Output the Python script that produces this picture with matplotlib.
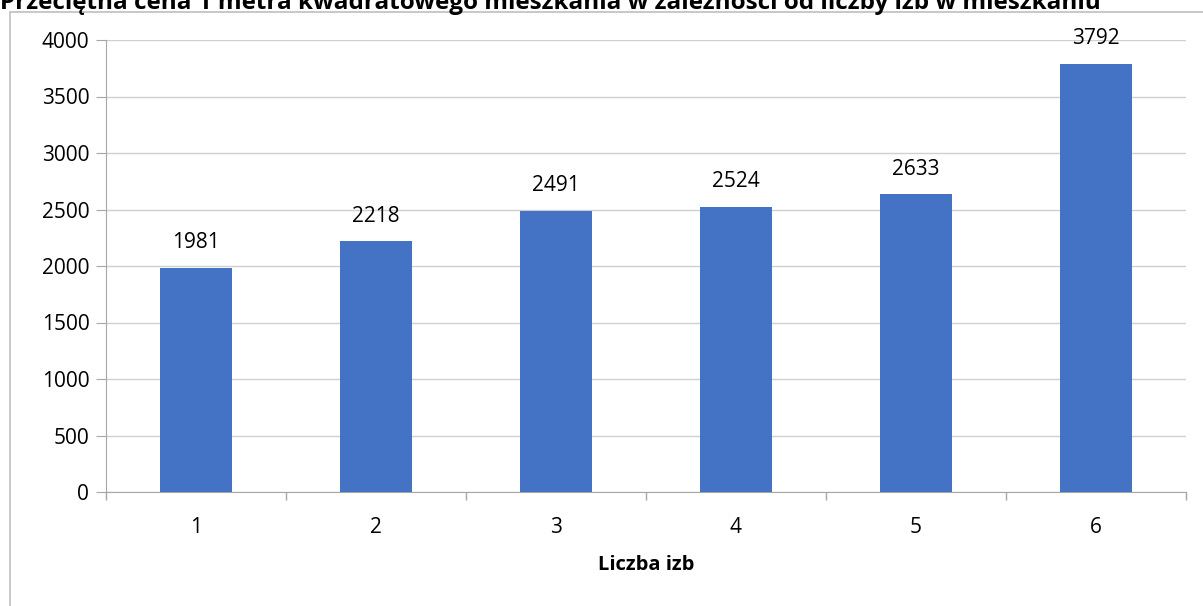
import matplotlib
matplotlib.use("Agg")
import matplotlib.pyplot as plt
from matplotlib.patches import Rectangle

# data
rooms = ["1", "2", "3", "4", "5", "6"]
prices = [1981, 2218, 2491, 2524, 2633, 3792]

title = "Przeciętna cena 1 metra kwadratowego mieszkania w zależności od liczby izb w mieszkaniu"

plt.rcParams["font.family"] = ["Open Sans", "DejaVu Sans"]

fig = plt.figure(figsize=(12.03, 6.06), dpi=100)
W, H = 1203, 606

# outer chart frame
fig.patches.append(Rectangle((10 / W, -0.05), 1.2, 1 - 12 / H + 0.05,
                             transform=fig.transFigure, fill=False,
                             edgecolor="#BFBFBF", linewidth=1.2))

ax = fig.add_axes([106 / W, 1 - 492 / H, (1186 - 106) / W, (492 - 40) / H])
x = list(range(len(rooms)))
ax.bar(x, prices, width=0.4, color="#4472C4", zorder=3)
for xi, v in zip(x, prices):
    ax.text(xi, v + 130, str(v), ha="center", va="bottom", fontsize=15, zorder=4)

ax.set_xlim(-0.5, len(rooms) - 0.5)
ax.set_ylim(0, 4000)
ax.set_yticks(range(0, 4001, 500))
ax.set_xticks(x)
ax.set_xticklabels(rooms, fontsize=15)
ax.set_xticks([i - 0.5 for i in range(len(rooms) + 1)], minor=True)
ax.tick_params(axis="x", which="major", length=0, pad=18)
ax.tick_params(axis="x", which="minor", length=6, color="#A6A6A6", width=1)
ax.tick_params(axis="y", length=7, color="#A6A6A6", labelsize=15, pad=5)
ax.grid(axis="y", color="#D0D0D0", linewidth=1, zorder=0)
for s in ["top", "right"]:
    ax.spines[s].set_visible(False)
for s in ["left", "bottom"]:
    ax.spines[s].set_color("#A6A6A6")
ax.set_xlabel("Liczba izb", fontsize=14.5, fontweight="bold", labelpad=12)

fig.text(0.0, 1 - 3 / H, title, ha="left", va="center", fontsize=17.5,
         fontweight="bold")

fig.savefig("out.png", dpi=100)
